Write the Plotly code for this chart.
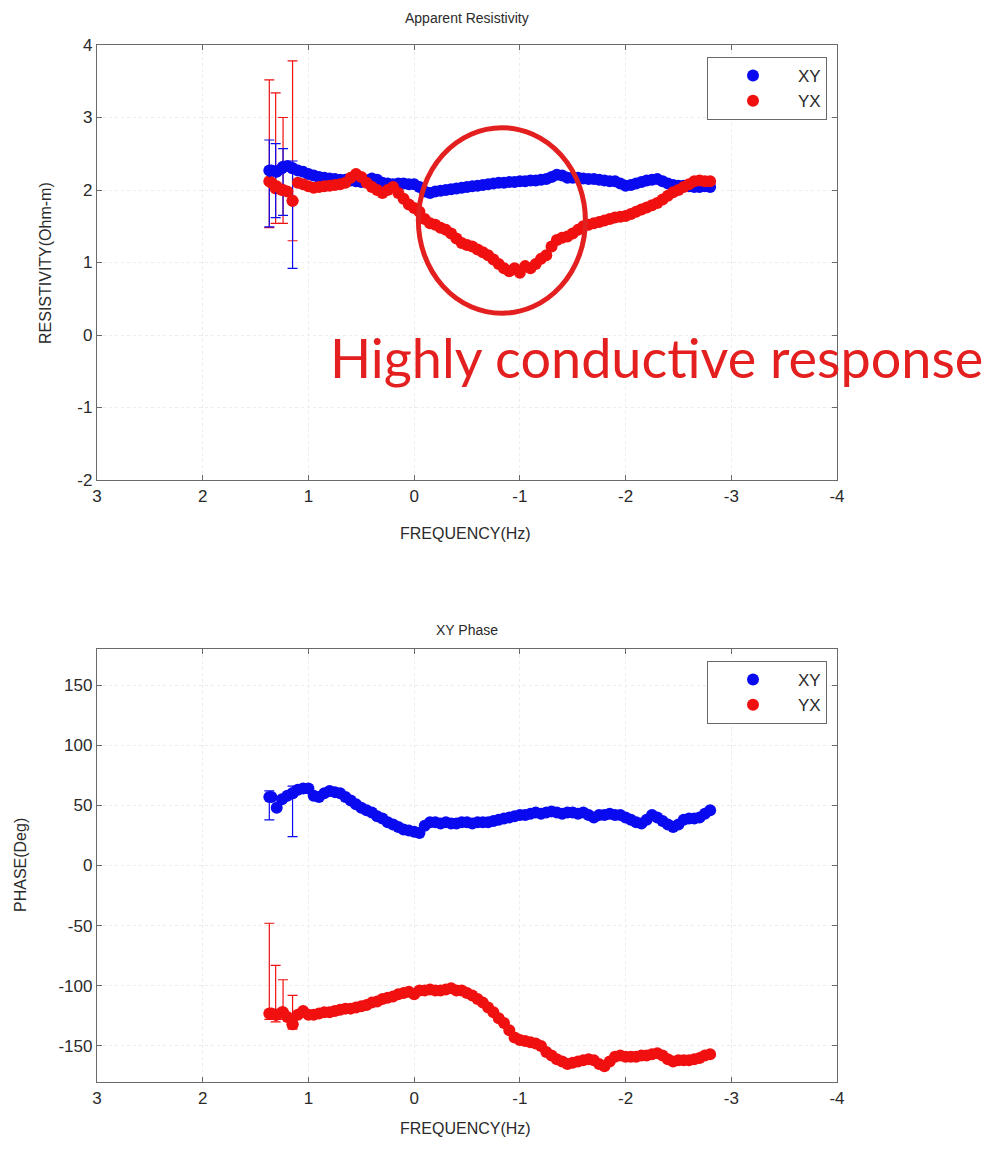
import plotly.graph_objects as go

# ---------------- data ----------------
freq = [1.35, 1.30, 1.25, 1.20, 1.15, 1.10, 1.05, 1.00, 0.95, 0.90, 0.85, 0.80, 0.75, 0.70,
        0.65, 0.60, 0.55, 0.50, 0.45, 0.40, 0.35, 0.30, 0.25, 0.20, 0.15, 0.10, 0.05, 0.00,
        -0.05, -0.10, -0.15, -0.20, -0.25, -0.30, -0.35, -0.40, -0.45, -0.50, -0.55, -0.60,
        -0.65, -0.70, -0.75, -0.80, -0.85, -0.90, -0.95, -1.00, -1.05, -1.10, -1.15, -1.20,
        -1.25, -1.30, -1.35, -1.40, -1.45, -1.50, -1.55, -1.60, -1.65, -1.70, -1.75, -1.80,
        -1.85, -1.90, -1.95, -2.00, -2.05, -2.10, -2.15, -2.20, -2.25, -2.30, -2.35, -2.40,
        -2.45, -2.50, -2.55, -2.60, -2.65, -2.70, -2.75, -2.80]

rho_xy = [2.27, 2.25, 2.30, 2.33, 2.30, 2.27, 2.25, 2.22, 2.20, 2.18, 2.17, 2.16, 2.15, 2.14,
          2.14, 2.13, 2.12, 2.11, 2.13, 2.16, 2.14, 2.10, 2.09, 2.08, 2.09, 2.09, 2.08, 2.08,
          2.04, 1.98, 1.96, 1.98, 1.99, 2.00, 2.01, 2.02, 2.03, 2.04, 2.05, 2.06,
          2.07, 2.08, 2.09, 2.10, 2.10, 2.11, 2.11, 2.12, 2.12, 2.13, 2.13, 2.14,
          2.15, 2.18, 2.21, 2.20, 2.17, 2.17, 2.17, 2.16, 2.15, 2.15, 2.14, 2.13,
          2.12, 2.12, 2.09, 2.06, 2.07, 2.09, 2.11, 2.13, 2.14, 2.15, 2.12, 2.09,
          2.07, 2.06, 2.06, 2.05, 2.04, 2.04, 2.05, 2.04]

rho_yx = [2.10, 2.05, 2.00, 1.98, 1.85, 2.10, 2.08, 2.05, 2.03, 2.04, 2.05, 2.06, 2.07, 2.08,
          2.10, 2.17, 2.22, 2.18, 2.10, 2.04, 2.00, 1.96, 2.00, 2.04, 1.96, 1.88, 1.80, 1.75,
          1.70, 1.60, 1.54, 1.52, 1.48, 1.45, 1.40, 1.33, 1.27, 1.24, 1.22, 1.18,
          1.14, 1.10, 1.04, 0.98, 0.92, 0.88, 0.92, 0.86, 0.95, 0.92, 0.98, 1.05,
          1.10, 1.22, 1.31, 1.34, 1.36, 1.40, 1.45, 1.50, 1.52, 1.54, 1.56, 1.58,
          1.60, 1.62, 1.63, 1.64, 1.67, 1.70, 1.73, 1.76, 1.79, 1.82, 1.87, 1.92,
          1.97, 2.00, 2.04, 2.08, 2.12, 2.13, 2.12, 2.12]

phs_xy = [57, 48, 55, 58, 60, 63, 64, 64, 58, 57, 60, 62, 61, 60,
          57, 54, 51, 48, 46, 44, 41, 39, 36, 34, 32, 30, 29, 28,
          27, 33, 36, 36, 35, 36, 35, 35, 36, 36, 35, 36,
          36, 36, 37, 38, 39, 40, 41, 42, 42, 43, 44, 43,
          44, 45, 44, 43, 44, 44, 43, 44, 42, 40, 42, 42,
          43, 42, 42, 40, 38, 36, 35, 38, 42, 40, 37, 34,
          32, 34, 38, 39, 39, 40, 43, 46]

phs_yx = [-123, -124, -122, -126, -132, -124, -121, -124, -124, -123, -122, -122, -121, -120,
          -119, -119, -118, -117, -116, -114, -113, -111, -110, -109, -107, -106, -105, -107,
          -104, -104, -103, -104, -104, -103, -102, -104, -104, -106, -108, -111,
          -114, -118, -122, -127, -131, -137, -143, -145, -146, -147, -148, -150,
          -155, -158, -161, -163, -165, -164, -163, -162, -161, -162, -165, -167,
          -163, -159, -158, -159, -159, -159, -158, -158, -157, -156, -158, -161,
          -163, -162, -162, -162, -161, -160, -158, -157]

# points carrying visible error bars
err_freq = [1.37, 1.31, 1.24, 1.15]
rho_xy_e_val = [2.27, 2.26, 2.32, 2.30]
rho_xy_e_hi = [2.69, 2.64, 2.57, 2.40]
rho_xy_e_lo = [1.49, 1.62, 1.65, 0.92]
rho_yx_e_val = [2.12, 2.02, 2.00, 1.85]
rho_yx_e_hi = [3.52, 3.34, 3.00, 3.78]
rho_yx_e_lo = [1.48, 1.54, 1.54, 1.30]

phs_xy_e_freq = [1.37, 1.15]
phs_xy_e_val = [57, 60]
phs_xy_e_hi = [62, 66]
phs_xy_e_lo = [38, 24]
phs_yx_e_val = [-123, -124, -122, -132]
phs_yx_e_hi = [-48, -83, -95, -108]
phs_yx_e_lo = [-128, -130, -128, -136]

# tick labels
x_ticks = [3, 2, 1, 0, -1, -2, -3, -4]
x_ticklabels = ["3", "2", "1", "0", "-1", "-2", "-3", "-4"]
rho_ticks = [-2, -1, 0, 1, 2, 3, 4]
rho_ticklabels = ["-2", "-1", "0", "1", "2", "3", "4"]
phs_ticks = [-150, -100, -50, 0, 50, 100, 150]
phs_ticklabels = ["-150", "-100", "-50", "0", "50", "100", "150"]

BLUE = "#0a0af0"
RED = "#f01010"
ANN_RED = "#e3201f"
FONT = "Liberation Sans, Arial, sans-serif"
TXT = "#2a2a2a"

fig = go.Figure()


def add_series(x, y, color, name, xa, ya, legend, show):
    fig.add_trace(go.Scatter(x=x, y=y, mode="markers", name=name,
                             marker=dict(color=color, size=12, line=dict(width=0)),
                             xaxis=xa, yaxis=ya, legend=legend, showlegend=show))


def add_err(x, val, hi, lo, color, xa, ya):
    plus = [h - v for h, v in zip(hi, val)]
    minus = [v - l for v, l in zip(val, lo)]
    fig.add_trace(go.Scatter(x=x, y=val, mode="markers",
                             marker=dict(color=color, size=12),
                             error_y=dict(type="data", array=plus, arrayminus=minus,
                                          color=color, thickness=1.2, width=5),
                             xaxis=xa, yaxis=ya, showlegend=False, hoverinfo="skip"))


# top panel
add_err(err_freq, rho_yx_e_val, rho_yx_e_hi, rho_yx_e_lo, RED, "x", "y")
add_err(err_freq, rho_xy_e_val, rho_xy_e_hi, rho_xy_e_lo, BLUE, "x", "y")
add_series(freq, rho_xy, BLUE, "XY", "x", "y", "legend", True)
add_series(freq, rho_yx, RED, "YX", "x", "y", "legend", True)

# bottom panel
add_err(err_freq, phs_yx_e_val, phs_yx_e_hi, phs_yx_e_lo, RED, "x2", "y2")
add_err(phs_xy_e_freq, phs_xy_e_val, phs_xy_e_hi, phs_xy_e_lo, BLUE, "x2", "y2")
add_series(freq, phs_xy, BLUE, "XY", "x2", "y2", "legend2", True)
add_series(freq, phs_yx, RED, "YX", "x2", "y2", "legend2", True)

L, R, T, B = 97, 155, 45, 69
W, H = 992, 1151
PH = H - T - B  # 1037


def py(px):
    return (H - B - px) / PH


def pxx(px):
    return (px - L) / (W - L - R)


axis_common = dict(showline=True, linecolor="#6a6a6a", linewidth=1.3, mirror="ticks",
                   ticks="inside", ticklen=5, tickcolor="#6a6a6a",
                   showgrid=True, gridcolor="#ececec", griddash="dot", gridwidth=1,
                   zeroline=False, tickfont=dict(family=FONT, size=17, color=TXT))

top_dom = [py(480), 1.0]
bot_dom = [0.0, py(649)]

legend_common = dict(xanchor="right", yanchor="top", bgcolor="white", bordercolor="#6a6a6a",
                     borderwidth=1, font=dict(family=FONT, size=17, color=TXT), itemwidth=80,
                     tracegroupgap=0, itemsizing="constant")

fig.update_layout(
    width=W, height=H,
    margin=dict(l=L, r=R, t=T, b=B),
    paper_bgcolor="white", plot_bgcolor="white",
    font=dict(family=FONT, color=TXT),
    xaxis=dict(axis_common, domain=[0, 1], range=[3, -4], tickvals=x_ticks, ticktext=x_ticklabels, anchor="y"),
    yaxis=dict(axis_common, domain=top_dom, range=[-2, 4], tickvals=rho_ticks, ticktext=rho_ticklabels, anchor="x"),
    xaxis2=dict(axis_common, domain=[0, 1], range=[3, -4], tickvals=x_ticks, ticktext=x_ticklabels, anchor="y2"),
    yaxis2=dict(axis_common, domain=bot_dom, range=[-180, 180], tickvals=phs_ticks, ticktext=phs_ticklabels, anchor="x2"),
    legend=dict(legend_common, x=pxx(827), y=py(57)),
    legend2=dict(legend_common, x=pxx(827), y=py(661)),
    shapes=[dict(type="circle", xref="x", yref="y", x0=-0.04, x1=-1.62, y0=0.30, y1=2.86,
                 line=dict(color=ANN_RED, width=5))],
)

ann = [
    dict(text="Apparent Resistivity", x=0.5, y=py(18), size=14),
    dict(text="XY Phase", x=0.5, y=py(630), size=14),
    dict(text="FREQUENCY(Hz)", x=pxx(465), y=py(533), size=16),
    dict(text="FREQUENCY(Hz)", x=pxx(465), y=py(1128), size=16),
]
for a in ann:
    fig.add_annotation(text=a["text"], x=a["x"], y=a["y"], xref="paper", yref="paper",
                       showarrow=False, xanchor="center", yanchor="middle",
                       font=dict(family=FONT, size=a["size"], color=TXT))

fig.add_annotation(text="RESISTIVITY(Ohm-m)", x=pxx(45), y=py(263), xref="paper", yref="paper",
                   showarrow=False, textangle=-90, xanchor="center", yanchor="middle",
                   font=dict(family=FONT, size=16, color=TXT))
fig.add_annotation(text="PHASE(Deg)", x=pxx(20), y=py(865), xref="paper", yref="paper",
                   showarrow=False, textangle=-90, xanchor="center", yanchor="middle",
                   font=dict(family=FONT, size=16, color=TXT))
fig.add_annotation(text="Highly conductive response", x=pxx(328), y=py(357), xref="paper", yref="paper",
                   showarrow=False, xanchor="left", yanchor="middle",
                   font=dict(family="Lato, sans-serif", size=54, color=ANN_RED))

fig.write_html("out.html")
